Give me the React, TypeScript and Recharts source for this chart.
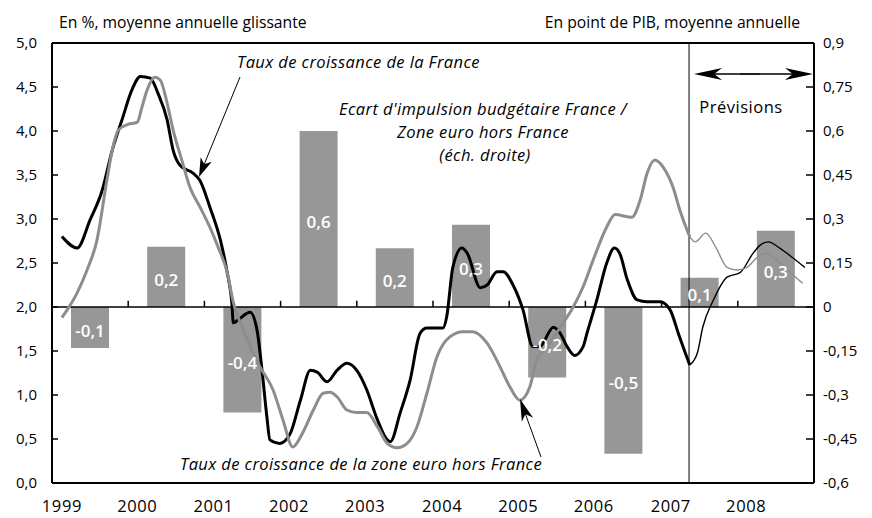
import { ComposedChart, Bar, Line, XAxis, YAxis, ReferenceLine, LabelList } from 'recharts';

// x position is measured in years from the left edge of the plot frame (0 .. 10)
const years = ['1999', '2000', '2001', '2002', '2003', '2004', '2005', '2006', '2007', '2008'];
const yearTickPos = [0.13, 1.12, 2.12, 3.11, 4.11, 5.12, 6.12, 7.11, 8.12, 9.11];

const impulseValues = [-0.14, 0.205, -0.36, 0.6, 0.2, 0.28, -0.24, -0.5, 0.1, 0.26];
const impulseLabels = ['-0,1', '0,2', '-0,4', '0,6', '0,2', '0,3', '-0,2', '-0,5', '0,1', '0,3'];

const franceHist: [number, number][] = [
  [0.13, 2.8], [0.33, 2.67], [0.5, 2.99], [0.66, 3.33], [0.79, 3.78], [0.92, 4.13], [1.05, 4.47],
  [1.16, 4.62], [1.29, 4.6], [1.39, 4.43], [1.51, 4.13], [1.59, 3.78], [1.68, 3.61], [1.85, 3.52],
  [1.94, 3.44], [2.07, 3.14], [2.21, 2.76], [2.3, 2.39], [2.36, 2.05], [2.38, 1.82], [2.45, 1.86],
  [2.6, 1.94], [2.69, 1.74], [2.76, 1.25], [2.82, 0.75], [2.86, 0.49], [2.99, 0.45], [3.12, 0.55],
  [3.26, 0.94], [3.39, 1.28], [3.48, 1.26], [3.61, 1.15], [3.74, 1.28], [3.87, 1.36], [4.0, 1.28],
  [4.13, 1.06], [4.27, 0.72], [4.4, 0.49], [4.44, 0.47], [4.57, 0.8], [4.7, 1.17], [4.83, 1.7],
  [4.92, 1.76], [5.13, 1.76], [5.18, 1.89], [5.26, 2.45], [5.38, 2.67], [5.45, 2.61], [5.62, 2.22],
  [5.71, 2.25], [5.84, 2.4], [5.92, 2.4], [6.05, 2.25], [6.18, 1.97], [6.31, 1.55], [6.4, 1.55],
  [6.58, 1.77], [6.67, 1.7], [6.76, 1.55], [6.86, 1.45], [6.97, 1.55], [7.02, 1.7], [7.15, 2.08],
  [7.28, 2.5], [7.38, 2.67], [7.45, 2.61], [7.55, 2.31], [7.68, 2.08], [7.81, 2.06], [7.98, 2.06],
  [8.11, 1.97], [8.22, 1.7], [8.31, 1.48], [8.37, 1.34],
];
const franceForecast: [number, number][] = [
  [8.37, 1.34], [8.47, 1.48], [8.54, 1.77], [8.68, 2.08], [8.86, 2.34], [9.03, 2.39], [9.2, 2.61],
  [9.29, 2.7], [9.4, 2.74], [9.55, 2.67], [9.72, 2.56], [9.88, 2.45],
];
const euroHist: [number, number][] = [
  [0.13, 1.88], [0.33, 2.16], [0.46, 2.42], [0.59, 2.76], [0.72, 3.44], [0.79, 3.78], [0.87, 4.01],
  [0.98, 4.07], [1.12, 4.1], [1.18, 4.27], [1.25, 4.47], [1.35, 4.61], [1.42, 4.58], [1.51, 4.32],
  [1.59, 4.01], [1.71, 3.65], [1.81, 3.36], [1.94, 3.14], [2.07, 2.91], [2.18, 2.68], [2.3, 2.39],
  [2.38, 2.05], [2.51, 1.74], [2.73, 1.32], [2.9, 1.06], [3.03, 0.72], [3.16, 0.41], [3.29, 0.57],
  [3.43, 0.83], [3.56, 1.02], [3.65, 1.03], [3.74, 0.98], [3.87, 0.83], [4.0, 0.8], [4.13, 0.8],
  [4.27, 0.64], [4.4, 0.45], [4.53, 0.4], [4.66, 0.45], [4.79, 0.64], [4.92, 1.02], [5.05, 1.43],
  [5.22, 1.66], [5.39, 1.72], [5.52, 1.72], [5.71, 1.59], [5.88, 1.32], [6.01, 1.09], [6.14, 0.94],
  [6.27, 1.09], [6.36, 1.4], [6.5, 1.55], [6.67, 1.77], [6.84, 2.0], [6.97, 2.23], [7.1, 2.53],
  [7.28, 2.91], [7.39, 3.05], [7.61, 3.02], [7.72, 3.22], [7.81, 3.52], [7.91, 3.67], [8.02, 3.59],
  [8.15, 3.36], [8.24, 3.1], [8.35, 2.84], [8.37, 2.8],
];
const euroForecast: [number, number][] = [
  [8.37, 2.8], [8.44, 2.74], [8.58, 2.84], [8.71, 2.68], [8.86, 2.45], [8.99, 2.42], [9.12, 2.45],
  [9.25, 2.56], [9.36, 2.61], [9.51, 2.53], [9.68, 2.4], [9.85, 2.27],
];

const leftTicks = [0, 0.5, 1, 1.5, 2, 2.5, 3, 3.5, 4, 4.5, 5];
const rightTicks = [-0.6, -0.45, -0.3, -0.15, 0, 0.15, 0.3, 0.45, 0.6, 0.75, 0.9];
const forecastStart = 8.36;

const FONT = '"Open Sans", Lato, sans-serif';
const BAR_GREY = '#979797';
const LINE_GREY = '#8d8d8d';

const barData = years.map((y, i) => ({ year: y, value: impulseValues[i], label: impulseLabels[i] }));
const toPts = (arr: [number, number][]) => arr.map(([u, v]) => ({ u, v }));

const LeftTick = (props: any) => {
  const { x, y, payload } = props;
  return (
    <g>
      <line x1={x} x2={x + 6} y1={y} y2={y} stroke="#000" strokeWidth={1.5} />
      <text x={x - 15} y={y + 5} textAnchor="end" fontSize={15} fontFamily={FONT} fill="#000">
        {payload.value.toFixed(1).replace('.', ',')}
      </text>
    </g>
  );
};

const RightTick = (props: any) => {
  const { x, y, payload } = props;
  return (
    <g>
      <line x1={x - 8} x2={x} y1={y} y2={y} stroke="#000" strokeWidth={1.5} />
      <text x={x + 9} y={y + 5} textAnchor="start" fontSize={15} fontFamily={FONT} fill="#000">
        {String(payload.value).replace('.', ',')}
      </text>
    </g>
  );
};

const YearTick = (props: any) => {
  const { x, y, index } = props;
  return (
    <text x={x} y={y + 21} textAnchor="middle" fontSize={16.5} letterSpacing={0.6} fontFamily={FONT} fill="#000">
      {years[index]}
    </text>
  );
};

function Arrow({ x1, y1, x2, y2, len = 18, half = 6 }: { x1: number; y1: number; x2: number; y2: number; len?: number; half?: number }) {
  const dx = x2 - x1;
  const dy = y2 - y1;
  const L = Math.hypot(dx, dy);
  const ux = dx / L;
  const uy = dy / L;
  const px = -uy;
  const py = ux;
  const bx = x2 - ux * len;
  const by = y2 - uy * len;
  const nx = x2 - ux * len * 0.72;
  const ny = y2 - uy * len * 0.72;
  return (
    <g>
      <line x1={x1} y1={y1} x2={nx} y2={ny} stroke="#000" strokeWidth={1} />
      <path
        d={`M${x2},${y2} L${bx + px * half},${by + py * half} L${nx},${ny} L${bx - px * half},${by - py * half} Z`}
        fill="#000"
      />
    </g>
  );
}

export default function App() {
  return (
    <div style={{ position: 'absolute', left: 0, top: 0, width: 872, height: 518, background: '#fff' }}>
      <ComposedChart width={872} height={518} data={barData} margin={{ top: 43, right: 0, bottom: 0, left: 0 }}>
        <XAxis
          dataKey="u"
          type="number"
          domain={[0, 10]}
          ticks={yearTickPos}
          interval={0}
          allowDataOverflow
          height={35}
          tickLine={false}
          axisLine={{ stroke: '#000', strokeWidth: 2 }}
          tick={<YearTick />}
        />
        <XAxis xAxisId="cat" dataKey="year" type="category" hide />
        <YAxis
          yAxisId="left"
          orientation="left"
          width={52}
          domain={[0, 5]}
          ticks={leftTicks}
          interval={0}
          tickSize={0}
          tickMargin={0}
          tickLine={false}
          axisLine={{ stroke: '#000', strokeWidth: 2 }}
          tick={<LeftTick />}
        />
        <YAxis
          yAxisId="right"
          orientation="right"
          width={58}
          domain={[-0.6, 0.9]}
          ticks={rightTicks}
          interval={0}
          tickSize={0}
          tickMargin={0}
          tickLine={false}
          axisLine={{ stroke: '#000', strokeWidth: 2 }}
          tick={<RightTick />}
        />
        <ReferenceLine yAxisId="left" y={5} stroke="#000" strokeWidth={2} />
        <Bar xAxisId="cat" yAxisId="right" dataKey="value" fill={BAR_GREY} barSize={38} isAnimationActive={false}>
          <LabelList
            dataKey="label"
            position="center"
            fill="#fff"
            fontSize={17}
            fontWeight={600}
            fontFamily={FONT}
            dy={3}
          />
        </Bar>
        <ReferenceLine yAxisId="left" y={2} stroke="#000" strokeWidth={1.5} />
        {[1, 2, 3, 4, 5, 6, 7, 8, 9].map((k) => (
          <ReferenceLine
            key={k}
            yAxisId="left"
            segment={[{ x: k, y: 2 }, { x: k, y: 2.07 }]}
            stroke="#000"
            strokeWidth={1.5}
          />
        ))}
        <ReferenceLine yAxisId="left" x={forecastStart} stroke="#000" strokeWidth={1} />
        <Line yAxisId="left" data={toPts(franceHist)} dataKey="v" type="monotone" stroke="#000" strokeWidth={3} dot={false} isAnimationActive={false} />
        <Line yAxisId="left" data={toPts(franceForecast)} dataKey="v" type="monotone" stroke="#000" strokeWidth={1.4} dot={false} isAnimationActive={false} />
        <Line yAxisId="left" data={toPts(euroHist)} dataKey="v" type="monotone" stroke={LINE_GREY} strokeWidth={3} dot={false} isAnimationActive={false} />
        <Line yAxisId="left" data={toPts(euroForecast)} dataKey="v" type="monotone" stroke={LINE_GREY} strokeWidth={1.4} dot={false} isAnimationActive={false} />
      </ComposedChart>

      <svg width={872} height={518} style={{ position: 'absolute', left: 0, top: 0, pointerEvents: 'none' }}>
        <g fontFamily={FONT} fill="#000">
          <text x={59} y={28} fontSize={15.7}>En %, moyenne annuelle glissante</text>
          <text x={800} y={28} fontSize={15.7} textAnchor="end">En point de PIB, moyenne annuelle</text>
          <g fontSize={16.5} fontStyle="italic" letterSpacing={0.4}>
            <text x={237} y={68}>Taux de croissance de la France</text>
            <text x={483} y={115} textAnchor="middle">Ecart d'impulsion budgétaire France /</text>
            <text x={483} y={138} textAnchor="middle">Zone euro hors France</text>
            <text x={485} y={161} textAnchor="middle">(éch. droite)</text>
            <text x={180} y={470}>Taux de croissance de la zone euro hors France</text>
          </g>
          <text x={741} y={113} fontSize={16.5} letterSpacing={0.5} textAnchor="middle">Prévisions</text>
        </g>
        <Arrow x1={240} y1={77} x2={199} y2={177} len={19} half={6} />
        <Arrow x1={541} y1={457} x2={520} y2={399} len={22} half={6} />
        <line x1={712} y1={74} x2={795} y2={74} stroke="#000" strokeWidth={1} />
        <Arrow x1={760} y1={74} x2={694} y2={74} len={28} half={6} />
        <Arrow x1={740} y1={74} x2={813} y2={74} len={28} half={6} />
      </svg>
    </div>
  );
}
